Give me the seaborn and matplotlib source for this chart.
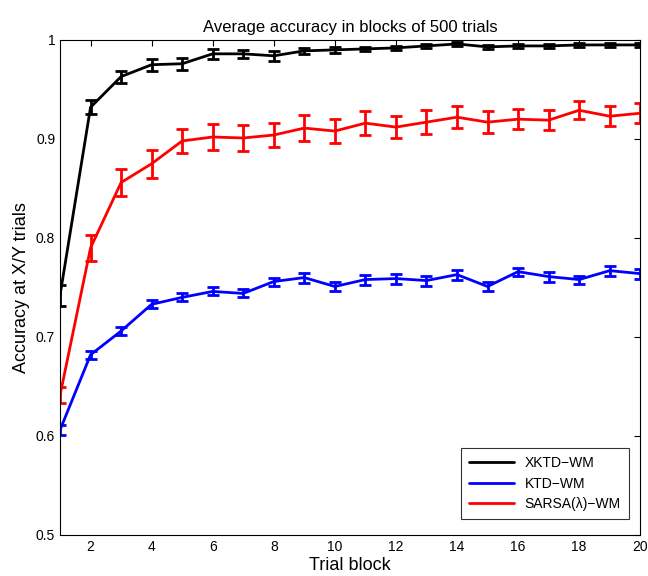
import numpy as np
import pandas as pd
import matplotlib
matplotlib.use('Agg')
import matplotlib.pyplot as plt
import seaborn as sns

blocks = list(range(1, 21))

xktd = [0.742, 0.932, 0.963, 0.975, 0.976, 0.986, 0.986, 0.984, 0.989, 0.990,
        0.991, 0.992, 0.994, 0.996, 0.993, 0.994, 0.994, 0.995, 0.995, 0.995]
xktd_err = [0.011, 0.007, 0.006, 0.006, 0.006, 0.005, 0.004, 0.005, 0.003, 0.003,
            0.002, 0.002, 0.002, 0.002, 0.002, 0.002, 0.002, 0.002, 0.002, 0.002]

ktd = [0.606, 0.682, 0.706, 0.733, 0.740, 0.746, 0.744, 0.756, 0.760, 0.751,
       0.758, 0.759, 0.757, 0.763, 0.751, 0.766, 0.761, 0.758, 0.767, 0.764]
ktd_err = [0.005, 0.004, 0.004, 0.004, 0.004, 0.004, 0.004, 0.004, 0.005, 0.005,
           0.005, 0.005, 0.005, 0.005, 0.005, 0.004, 0.005, 0.004, 0.005, 0.005]

sarsa = [0.641, 0.790, 0.856, 0.875, 0.898, 0.902, 0.901, 0.904, 0.911, 0.908,
         0.916, 0.912, 0.917, 0.922, 0.917, 0.920, 0.919, 0.929, 0.923, 0.926]
sarsa_err = [0.008, 0.013, 0.014, 0.014, 0.012, 0.013, 0.013, 0.012, 0.013, 0.012,
             0.012, 0.011, 0.012, 0.011, 0.011, 0.010, 0.010, 0.009, 0.010, 0.010]

names = ['XKTD\u2212WM', 'KTD\u2212WM', 'SARSA(\u03bb)\u2212WM']
colors = ['black', 'blue', 'red']

df = pd.concat([
    pd.DataFrame({'block': blocks, 'acc': xktd, 'err': xktd_err, 'model': names[0]}),
    pd.DataFrame({'block': blocks, 'acc': ktd, 'err': ktd_err, 'model': names[1]}),
    pd.DataFrame({'block': blocks, 'acc': sarsa, 'err': sarsa_err, 'model': names[2]}),
])

sns.set_style('white')
plt.rcParams['font.family'] = ['Liberation Sans', 'DejaVu Sans']
plt.rcParams['text.color'] = 'black'
plt.rcParams['axes.labelcolor'] = 'black'
plt.rcParams['xtick.color'] = 'black'
plt.rcParams['ytick.color'] = 'black'

fig = plt.figure(figsize=(6.48, 5.76), dpi=100)
ax = fig.add_axes([0.0926, 0.0712, 0.8954, 0.8594])

sns.lineplot(data=df, x='block', y='acc', hue='model', palette=colors,
             hue_order=names, linewidth=2, ax=ax)
for name, c in zip(names, colors):
    d = df[df.model == name]
    ax.errorbar(d.block, d.acc, yerr=d.err, fmt='none', ecolor=c,
                elinewidth=2, capsize=4.5, capthick=2)

ax.set_xlim(1, 20)
ax.set_ylim(0.5, 1)
ax.set_xticks(range(2, 21, 2))
ax.set_yticks([0.5, 0.6, 0.7, 0.8, 0.9, 1.0])
ax.set_yticklabels(['0.5', '0.6', '0.7', '0.8', '0.9', '1'])
ax.tick_params(direction='in', length=4, width=0.8, top=True, right=True, labelsize=10)
for s in ax.spines.values():
    s.set_linewidth(0.8)
    s.set_color('black')

ax.set_title('Average accuracy in blocks of 500 trials', fontsize=12)
ax.set_xlabel('Trial block', fontsize=13, labelpad=2)
ax.set_ylabel('Accuracy at X/Y trials', fontsize=13)

leg = ax.legend(loc='lower right', bbox_to_anchor=(0.993, 0.018), fontsize=10,
                frameon=True, fancybox=False, edgecolor='black', handlelength=3.2,
                borderpad=0.6, labelspacing=0.45)
leg.get_frame().set_linewidth(0.8)

fig.savefig('out.png', dpi=100)
